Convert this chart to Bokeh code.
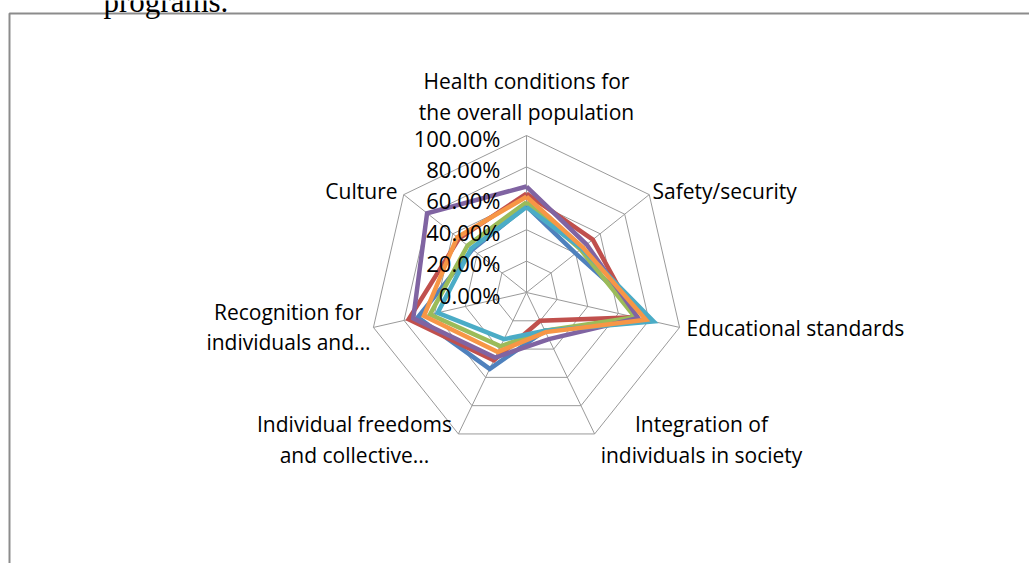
import math
from bokeh.plotting import figure
from bokeh.models import Range1d
from bokeh.core.properties import value
from bokeh.embed import file_html
from bokeh.resources import INLINE

# ---------------- data ----------------
categories = [
    "Health conditions for the overall population",
    "Safety/security",
    "Educational standards",
    "Integration of individuals in society",
    "Individual freedoms and collective...",
    "Recognition for individuals and...",
    "Culture",
]
tick_values = [0.0, 0.2, 0.4, 0.6, 0.8, 1.0]
tick_labels = ["0.00%", "20.00%", "40.00%", "60.00%", "80.00%", "100.00%"]

series_blue = [0.55, 0.40, 0.81, 0.27, 0.54, 0.71, 0.44]
series_red = [0.63, 0.54, 0.71, 0.20, 0.48, 0.77, 0.55]
series_green = [0.575, 0.44, 0.71, 0.27, 0.38, 0.63, 0.48]
series_purple = [0.675, 0.49, 0.73, 0.33, 0.46, 0.74, 0.81]
series_teal = [0.545, 0.45, 0.83, 0.27, 0.33, 0.58, 0.45]
series_orange = [0.61, 0.46, 0.78, 0.28, 0.42, 0.67, 0.565]

series = [series_blue, series_red, series_green, series_purple, series_teal, series_orange]
colors = ["#4F81BD", "#C0504D", "#9BBB59", "#8064A2", "#4BACC6", "#F79646"]

# ---------------- layout ----------------
W, H = 1029, 563
CX, CY, S = 526, 292, 157.0  # centre (px) and px per 100%


def P(px, py):
    return ((px - CX) / S, (CY - py) / S)


n = len(categories)
angles = [math.pi / 2 - k * 2 * math.pi / n for k in range(n)]

p = figure(width=W, height=H, output_backend="svg", toolbar_location=None,
           x_range=Range1d(-CX / S, (W - CX) / S),
           y_range=Range1d(-(H - CY) / S, CY / S),
           x_axis_type=None, y_axis_type=None, min_border=0)
p.outline_line_color = None
p.grid.visible = False
p.background_fill_color = "white"
p.border_fill_color = "white"

# frame around the chart (document frame)
fx = [P(9, H + 10)[0], P(9, 13)[0], P(W + 10, 13)[0]]
fy = [P(9, H + 10)[1], P(9, 13)[1], P(W + 10, 13)[1]]
p.line(fx, fy, line_color="#8c8c8c", line_width=2)

# text above the frame (cut off at the top, as in the source page)
tx, ty = P(103, 1)
p.text([tx], [ty], text=["programs."], text_font=value("Liberation Serif"),
       text_font_size="31px", text_align="left", text_baseline="alphabetic",
       text_color="#000000")

grid_color = "#9a9a9a"
# rings
for v in tick_values[1:]:
    xs = [v * math.cos(a) for a in angles] + [v * math.cos(angles[0])]
    ys = [v * math.sin(a) for a in angles] + [v * math.sin(angles[0])]
    p.line(xs, ys, line_color=grid_color, line_width=1)
# spokes
p.multi_line([[0, math.cos(a)] for a in angles], [[0, math.sin(a)] for a in angles],
             line_color=grid_color, line_width=1)

# series
for vals, c in zip(series, colors):
    xs = [v * math.cos(a) for v, a in zip(vals, angles)]
    ys = [v * math.sin(a) for v, a in zip(vals, angles)]
    xs.append(xs[0]); ys.append(ys[0])
    p.line(xs, ys, line_color=c, line_width=4.5, line_join="miter")

# tick labels
font = value("Open Sans")
fs = "21px"
lx = (500 - CX) / S
p.text([lx] * len(tick_values), [v - 2 / S for v in tick_values], text=tick_labels,
       text_font=font, text_font_size="22px", text_align="right", text_baseline="middle",
       text_color="#000000")

# category labels (pixel anchors)
label_lines = [
    (["Health conditions for", "the overall population"], 526, [80, 111], "center"),
    (["Safety/security"], 652, [190], "left"),
    (["Educational standards"], 686, [327], "left"),
    (["Integration of", "individuals in society"], 701, [423, 454], "center"),
    (["Individual freedoms", "and collective..."], 354, [423, 454], "center"),
    (["Recognition for", "individuals and..."], 288, [311, 341], "center"),
    (["Culture"], 397, [190], "right"),
]
for lines, px, pys, align in label_lines:
    xs = [P(px, py)[0] for py in pys]
    ys = [P(px, py)[1] for py in pys]
    p.text(xs, ys, text=lines, text_font=font, text_font_size=fs, text_align=align,
           text_baseline="middle", text_color="#000000")

open("out.html", "w").write(file_html(p, INLINE))
